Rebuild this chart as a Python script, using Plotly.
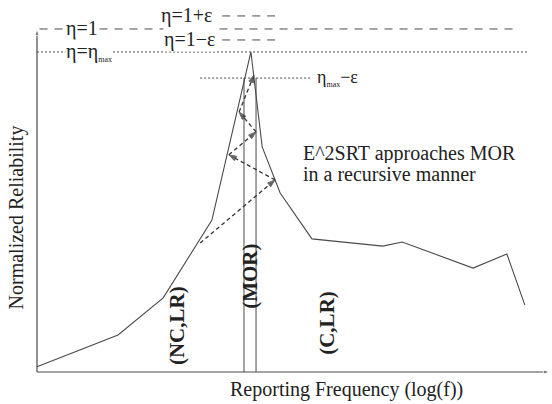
import plotly.graph_objects as go

# Normalized reliability versus log reporting frequency
log_freq = [0.0, 1.58, 2.46, 3.41, 4.17, 4.39, 4.74, 5.36, 6.74, 7.12, 8.50, 9.16, 9.51]
reliability = [0.015, 0.108, 0.216, 0.443, 0.933, 0.656, 0.522, 0.388, 0.367, 0.379, 0.303, 0.344, 0.195]

# Reference levels
ETA_ONE = 1.0
ETA_ONE_PLUS = 1.038
ETA_ONE_MINUS = 0.968
ETA_MAX = 0.933
ETA_MAX_MINUS = 0.857

# Bounds of the MOR band
mor_band = [4.035, 4.27]

# Recursive search path of E^2SRT
search_x = [3.18, 4.64, 3.74, 4.27, 3.94, 4.23]
search_y = [0.376, 0.560, 0.633, 0.700, 0.758, 0.866]

X_END = 10.0
SERIF = "Liberation Serif, Times New Roman, serif"
INK = "#222222"
LINE = "#4a4a4a"

fig = go.Figure()

# axes drawn as arrows
fig.add_trace(go.Scatter(x=[0, X_END], y=[0, 0], mode="lines+markers",
                         line=dict(color=LINE, width=1.2),
                         marker=dict(symbol="arrow", angleref="previous", size=[0, 7], color=LINE)))
fig.add_trace(go.Scatter(x=[0, 0], y=[0, ETA_ONE], mode="lines+markers",
                         line=dict(color=LINE, width=1.2),
                         marker=dict(symbol="arrow", angleref="previous", size=[0, 7], color=LINE)))

# reliability curve
fig.add_trace(go.Scatter(x=log_freq, y=reliability, mode="lines",
                         line=dict(color=LINE, width=1.1)))

# reference levels
fig.add_trace(go.Scatter(x=[0.05, 9.38], y=[ETA_ONE, ETA_ONE], mode="lines",
                         line=dict(color=LINE, width=1, dash="8px,7px")))
fig.add_trace(go.Scatter(x=[3.61, 4.64], y=[ETA_ONE_PLUS, ETA_ONE_PLUS], mode="lines",
                         line=dict(color=LINE, width=1, dash="8px,7px")))
fig.add_trace(go.Scatter(x=[3.61, 4.64], y=[ETA_ONE_MINUS, ETA_ONE_MINUS], mode="lines",
                         line=dict(color=LINE, width=1, dash="8px,7px")))
fig.add_trace(go.Scatter(x=[0, 9.55], y=[ETA_MAX, ETA_MAX], mode="lines",
                         line=dict(color=LINE, width=1, dash="2px,2px")))
fig.add_trace(go.Scatter(x=[3.18, 5.36], y=[ETA_MAX_MINUS, ETA_MAX_MINUS], mode="lines",
                         line=dict(color=LINE, width=1, dash="2px,2px")))

# MOR band
for xb in mor_band:
    fig.add_trace(go.Scatter(x=[xb, xb], y=[0, ETA_MAX_MINUS], mode="lines",
                             line=dict(color=LINE, width=1)))

# search path (dashed) with arrowheads at each step
fig.add_trace(go.Scatter(x=search_x, y=search_y, mode="lines+markers",
                         line=dict(color="#333333", width=1.3, dash="4px,3px"),
                         marker=dict(symbol="arrow", angleref="previous", color="#222222",
                                     size=[0] + [8] * (len(search_x) - 1))))

annotations = []


def label(text, x, y, size=20, xanchor="left", angle=0, bg="white", bold=False, height=None):
    t = f"<b>{text}</b>" if bold else text
    ann = dict(x=x, y=y, xref="x", yref="y", text=t, showarrow=False,
               xanchor=xanchor, yanchor="middle", textangle=angle,
               bgcolor=bg, borderpad=0,
               font=dict(family=SERIF, size=size, color=INK))
    if height:
        ann["height"] = height
    annotations.append(ann)


SUB_MAX = "<sub><span style='font-size:8px'>max</span></sub>"

label("η=1", 0.55, ETA_ONE)
label("η=η" + SUB_MAX, 0.55, ETA_MAX)
label("η=1+ε", 2.40, ETA_ONE_PLUS)
label("η=1−ε", 2.45, ETA_ONE_MINUS)
label("η" + SUB_MAX + "−ε", 5.44, ETA_MAX_MINUS, size=18)
label("E^2SRT approaches MOR", 5.17, 0.636, bg=None, height=19)
label("in a recursive manner", 5.17, 0.580, bg=None, height=19)
label("(NC,LR)", 2.73, 0.134, size=21, xanchor="center", angle=-90, bg=None, bold=True)
label("(MOR)", 4.15, 0.28, size=21, xanchor="center", angle=-90, bg=None, bold=True)
label("(C,LR)", 5.65, 0.143, size=21, xanchor="center", angle=-90, bg=None, bold=True)
label("Normalized Reliability", -0.40, 0.452, xanchor="center", angle=-90, bg=None)
label("Reporting Frequency (log(f))", 6.04, -0.05, xanchor="center", bg=None)

fig.update_layout(
    width=552, height=404,
    margin=dict(l=0, r=0, t=0, b=0),
    paper_bgcolor="white", plot_bgcolor="white",
    showlegend=False,
    xaxis=dict(range=[-0.721, 10.039], visible=False, fixedrange=True),
    yaxis=dict(range=[-0.0933, 1.0845], visible=False, fixedrange=True),
    annotations=annotations,
)

fig.write_html("out.html")
